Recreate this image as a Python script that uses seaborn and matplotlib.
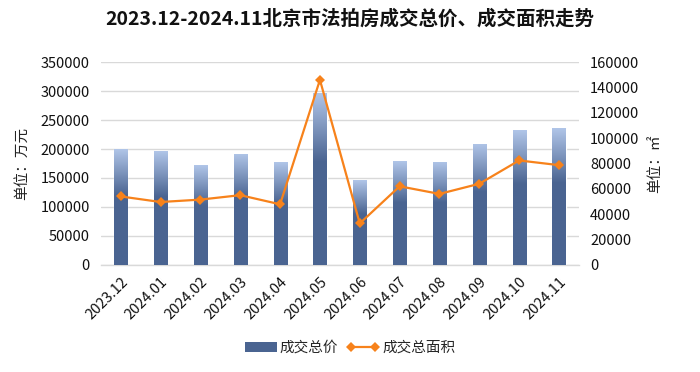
import numpy as np
import pandas as pd
import matplotlib
matplotlib.use("Agg")
import matplotlib.pyplot as plt
import seaborn as sns
from matplotlib.patches import Patch
from matplotlib.lines import Line2D
from matplotlib.colors import to_rgba

months = ["2023.12", "2024.01", "2024.02", "2024.03", "2024.04", "2024.05",
          "2024.06", "2024.07", "2024.08", "2024.09", "2024.10", "2024.11"]
total_price = [199500, 196500, 172000, 192000, 177000, 296000,
               146000, 179000, 178000, 209000, 232000, 236000]
total_area = [54000, 49600, 51500, 55000, 47800, 146000,
              32700, 62000, 56000, 64000, 82400, 78700]

title = "2023.12-2024.11北京市法拍房成交总价、成交面积走势"
left_label = "单位：万元"
right_label = "单位：㎡"
bar_name = "成交总价"
line_name = "成交总面积"

dark = "#4a6491"
light = "#b0c5e8"
orange = "#f7821b"

sns.set_theme(style="white")
plt.rcParams['font.family'] = ['Noto Sans CJK SC', 'DejaVu Sans']

df = pd.DataFrame({"month": months, "price": total_price, "area": total_area})

fig = plt.figure(figsize=(7, 3.72), dpi=100)
ax = fig.add_axes([0.144, 0.288, 0.683, 0.545])

sns.barplot(data=df, x="month", y="price", ax=ax, color=dark, width=0.33,
            saturation=1, zorder=2)

# gradient on bars
grad = np.zeros((200, 1, 4))
c_light = np.array(to_rgba(light))
c_dark = np.array(to_rgba(dark))
frac = 0.40
for i in range(200):
    t = i / 199
    if t < frac:
        s = t / frac
        grad[i, 0] = c_light * (1 - s) + c_dark * s
    else:
        grad[i, 0] = c_dark
xlim = (-0.5, len(months) - 0.5)
for p in list(ax.patches):
    x0, y0 = p.get_x(), p.get_y()
    w, h = p.get_width(), p.get_height()
    im = ax.imshow(grad, extent=[x0, x0 + w, y0, y0 + h], aspect="auto",
                   origin="upper", zorder=3, interpolation="bilinear")
    im.set_clip_path(p)

tick_fs = 10.5
ax.set_xlim(xlim)
ax.set_ylim(0, 350000)
ax.set_yticks(np.arange(0, 350001, 50000))
ax.grid(axis="y", color="#d9d9d9", linewidth=1, zorder=0)
ax.set_axisbelow(True)
for s in ["top", "right", "left"]:
    ax.spines[s].set_visible(False)
ax.spines["bottom"].set_color("#d9d9d9")
ax.spines["bottom"].set_linewidth(1)
ax.set_xlabel("")
ax.set_ylabel(left_label, fontsize=10.5, color="#222222", labelpad=8)
ax.tick_params(axis="y", labelsize=tick_fs, colors="#111111", length=0, pad=8)
ax.tick_params(axis="x", labelsize=tick_fs, colors="#111111", length=0, pad=7)
for lab in ax.get_xticklabels():
    lab.set_rotation(45)
    lab.set_ha("right")
    lab.set_rotation_mode("anchor")

ax2 = ax.twinx()
sns.lineplot(x=df.index, y=df["area"], ax=ax2, color=orange, linewidth=1.6,
             marker="D", markersize=5.5, markeredgewidth=0, zorder=5)
ax2.set_xlim(xlim)
ax2.set_ylim(0, 160000)
ax2.set_yticks(np.arange(0, 160001, 20000))
for s in ["top", "right", "left", "bottom"]:
    ax2.spines[s].set_visible(False)
ax2.grid(False)
ax2.set_ylabel(right_label, fontsize=10.5, color="#222222", rotation=90, labelpad=6)
ax2.yaxis.set_label_position("right")
ax2.tick_params(axis="y", labelsize=tick_fs, colors="#111111", length=0, pad=8)

fig.suptitle(title, x=0.5, y=0.975, fontsize=14, fontweight="bold", color="#111111")

handles = [Patch(facecolor=dark, edgecolor="none"),
           Line2D([0], [0], color=orange, linewidth=1.6, marker="D", markersize=5,
                  markeredgewidth=0)]
fig.legend(handles, [bar_name, line_name], loc="center", bbox_to_anchor=(0.5, 0.065),
           ncol=2, frameon=False, fontsize=10.5, handlelength=2.2, columnspacing=0.6,
           handletextpad=0.2, numpoints=2)

fig.savefig("out.png", dpi=100, facecolor="white")
